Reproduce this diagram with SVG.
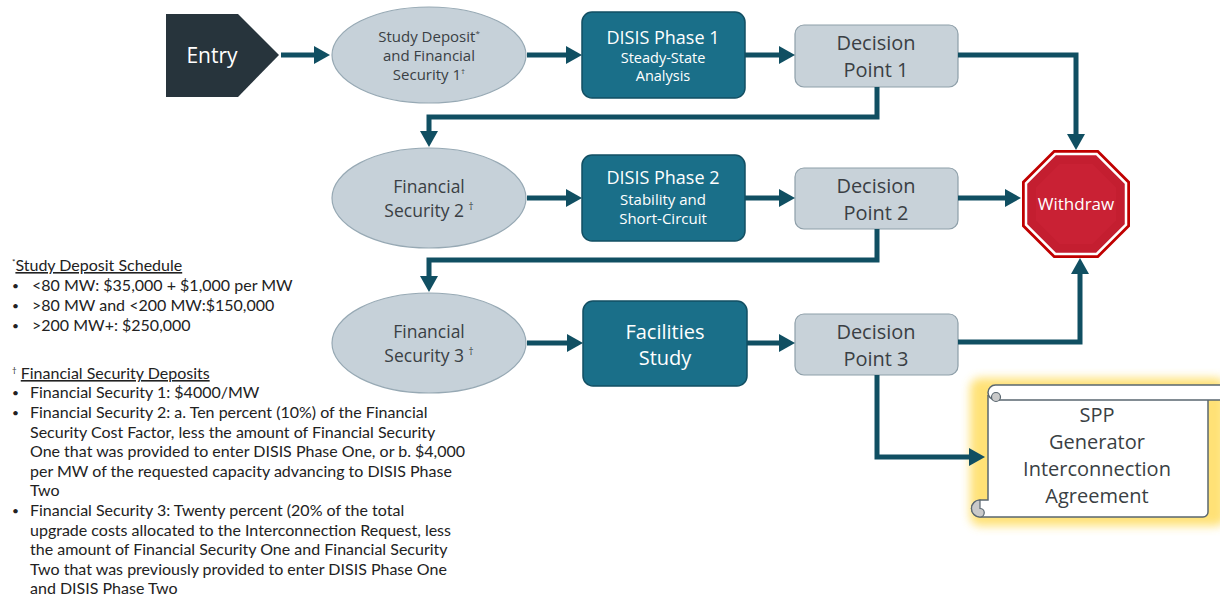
<svg xmlns="http://www.w3.org/2000/svg" width="1220" height="598" viewBox="0 0 1220 598">
<defs>
<style>
text{font-family:"Open Sans","Noto Sans","Liberation Sans",sans-serif}
.ell{fill:#c6d1d9;stroke:#97a9b4;stroke-width:1.2}
.teal{fill:#1a6f89;stroke:#124f63;stroke-width:1.5}
.dec{fill:#c8d2d9;stroke:#8e9fa9;stroke-width:1.2}
.con{fill:none;stroke:#104f62;stroke-width:5;marker-end:url(#ah)}
.dk{fill:#3a3f44;text-anchor:middle}
.wt{fill:#ffffff;text-anchor:middle}
.leg{fill:#222;font-size:16px;font-family:Lato,"Open Sans",sans-serif}
.bul{fill:#222;font-size:12px;font-family:Lato,"Open Sans",sans-serif}
</style>
<marker id="ah" viewBox="0 -9 16 18" refX="1" refY="0" markerWidth="16" markerHeight="18" markerUnits="userSpaceOnUse" orient="auto">
<path d="M0,-9 L16,0 L0,9 Z" fill="#104f62"/>
</marker>
<filter id="glow" x="-20%" y="-20%" width="140%" height="140%">
<feGaussianBlur stdDeviation="5"/>
</filter>
</defs>

<g id="entry">
<path d="M166,14 H238 L279,55 L238,97 H166 Z" fill="#27343c"/>
<text class="wt" x="212" y="63" font-size="21">Entry</text>
</g>

<g id="study-deposit">
<ellipse class="ell" cx="429" cy="55" rx="97" ry="48"/>
<text class="dk" font-size="15"><tspan x="429" y="42">Study Deposit<tspan font-size="8" dy="-6">*</tspan></tspan><tspan x="429" y="61">and Financial</tspan><tspan x="429" y="80">Security 1<tspan font-size="8" dy="-6">†</tspan></tspan></text>
</g>

<g id="disis1">
<rect class="teal" x="582" y="12" width="163" height="86" rx="10"/>
<text class="wt" x="663" y="44" font-size="18">DISIS Phase 1</text>
<text class="wt" x="663" y="63" font-size="14.5">Steady-State</text>
<text class="wt" x="663" y="81" font-size="14.5">Analysis</text>
</g>

<g id="dp1">
<rect class="dec" x="795" y="25" width="163" height="62" rx="9"/>
<text class="dk" x="876" y="50" font-size="20">Decision</text>
<text class="dk" x="876" y="77" font-size="20">Point 1</text>
</g>

<g id="fs2">
<ellipse class="ell" cx="429" cy="198" rx="97" ry="50"/>
<text class="dk" font-size="17.5"><tspan x="429" y="193">Financial</tspan><tspan x="429" y="217">Security 2 <tspan font-size="10" dy="-7">†</tspan></tspan></text>
</g>

<g id="disis2">
<rect class="teal" x="582" y="155" width="163" height="86" rx="10"/>
<text class="wt" x="663" y="184" font-size="18">DISIS Phase 2</text>
<text class="wt" x="663" y="205" font-size="15">Stability and</text>
<text class="wt" x="663" y="224" font-size="15">Short-Circuit</text>
</g>

<g id="dp2">
<rect class="dec" x="795" y="168" width="163" height="61" rx="9"/>
<text class="dk" x="876" y="193" font-size="20">Decision</text>
<text class="dk" x="876" y="220" font-size="20">Point 2</text>
</g>

<g id="withdraw">
<polygon points="1053.6,150 1098.4,150 1130,181.6 1130,226.4 1098.4,258 1053.6,258 1022,226.4 1022,181.6" fill="#c00000"/>
<polygon points="1055.3,154 1096.7,154 1126,183.3 1126,224.7 1096.7,254 1055.3,254 1026,224.7 1026,183.3" fill="#c41e30" stroke="#ffffff" stroke-width="2.5"/>
<polygon points="1059.4,164 1092.6,164 1116,187.4 1116,220.6 1092.6,244 1059.4,244 1036,220.6 1036,187.4" fill="#c92134"/>
<text class="wt" x="1076" y="210" font-size="17">Withdraw</text>
</g>

<g id="fs3">
<ellipse class="ell" cx="429" cy="343" rx="97" ry="50"/>
<text class="dk" font-size="17.5"><tspan x="429" y="338">Financial</tspan><tspan x="429" y="362">Security 3 <tspan font-size="10" dy="-7">†</tspan></tspan></text>
</g>

<g id="facilities">
<rect class="teal" x="583" y="301" width="164" height="85" rx="10"/>
<text class="wt" x="665" y="339" font-size="20">Facilities</text>
<text class="wt" x="665" y="365" font-size="20">Study</text>
</g>

<g id="dp3">
<rect class="dec" x="795" y="314" width="163" height="61" rx="9"/>
<text class="dk" x="876" y="339" font-size="20">Decision</text>
<text class="dk" x="876" y="366" font-size="20">Point 3</text>
</g>

<g id="agreement">
<rect x="970" y="378" width="256" height="148" rx="10" fill="#ffd84a" opacity="0.75" filter="url(#glow)"/>
<path d="M988,395 V500 H980 A8.5,8.5 0 0 0 980,517 H1203 A5,5 0 0 0 1208,512 V400" fill="#ffffff" stroke="#5a6770" stroke-width="1.5"/>
<rect x="988" y="385" width="240" height="15" rx="7.5" fill="#ffffff" stroke="#5a6770" stroke-width="1.5"/>
<path d="M996,392.5 A4.5,4.5 0 1 0 996,401.5 A4.5,4.5 0 0 0 996,392.5" fill="#c9c9c9" stroke="#5a6770" stroke-width="1.2"/>
<path d="M980,500 A8.5,8.5 0 0 0 980,517 A4.2,4.2 0 0 0 980,508.5 Z" fill="#c9c9c9" stroke="#5a6770" stroke-width="1.2"/>
<text class="dk" x="1097" y="422" font-size="20">SPP</text>
<text class="dk" x="1097" y="449" font-size="20">Generator</text>
<text class="dk" x="1097" y="476" font-size="20">Interconnection</text>
<text class="dk" x="1097" y="503" font-size="20">Agreement</text>
</g>

<g id="connectors">
<path class="con" d="M281,55 H315"/>
<path class="con" d="M527,55 H567"/>
<path class="con" d="M745,55 H780"/>
<path class="con" d="M958,55 H1076 V135"/>
<path class="con" d="M877,87 V117 H429 V132"/>
<path class="con" d="M527,198 H567"/>
<path class="con" d="M745,198 H780"/>
<path class="con" d="M958,198 H1006"/>
<path class="con" d="M877,229 V260 H429 V277"/>
<path class="con" d="M527,343 H568"/>
<path class="con" d="M747,343 H780"/>
<path class="con" d="M958,342 H1080 V273"/>
<path class="con" d="M877,375 V457 H970"/>
</g>

<g id="legend">
<text class="leg" x="12" y="271"><tspan font-size="8" dy="-6">*</tspan><tspan dy="6" text-decoration="underline">Study Deposit Schedule</tspan></text>
<text class="bul" x="12" y="290">•</text><text class="leg" x="32" y="291">&lt;80 MW: $35,000  + $1,000 per MW</text>
<text class="bul" x="12" y="310">•</text><text class="leg" x="32" y="311">&gt;80 MW and &lt;200 MW:$150,000</text>
<text class="bul" x="12" y="330">•</text><text class="leg" x="32" y="331">&gt;200 MW+: $250,000</text>
<text class="leg" x="12" y="379"><tspan font-size="8" dy="-6">†</tspan><tspan dy="6"> </tspan><tspan text-decoration="underline">Financial Security Deposits</tspan></text>
<text class="bul" x="12" y="397">•</text><text class="leg" x="30" y="398">Financial Security 1: $4000/MW</text>
<text class="bul" x="12" y="417">•</text><text class="leg" x="30" y="418">Financial Security 2: a. Ten percent (10%) of the Financial</text>
<text class="leg" x="30" y="437.5">Security Cost Factor, less the amount of Financial Security</text>
<text class="leg" x="30" y="457">One that was provided to enter DISIS Phase One, or b. $4,000</text>
<text class="leg" x="30" y="476.5">per MW of the requested capacity advancing to DISIS Phase</text>
<text class="leg" x="30" y="496">Two</text>
<text class="bul" x="12" y="515">•</text><text class="leg" x="30" y="516">Financial Security 3: Twenty percent (20% of the total</text>
<text class="leg" x="30" y="535.5">upgrade costs allocated to the Interconnection Request, less</text>
<text class="leg" x="30" y="555">the amount of Financial Security One and Financial Security</text>
<text class="leg" x="30" y="574.5">Two that was previously provided to enter DISIS Phase One</text>
<text class="leg" x="30" y="594">and DISIS Phase Two</text>
</g>
</svg>
